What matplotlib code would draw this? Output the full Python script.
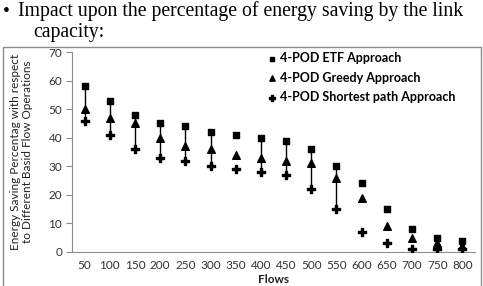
import matplotlib
matplotlib.use("Agg")
import matplotlib.pyplot as plt
from matplotlib.patches import Rectangle

flows = ["50", "100", "150", "200", "250", "300", "350", "400", "450", "500",
         "550", "600", "650", "700", "750", "800"]
etf = [58, 53, 48, 45, 44, 42, 41, 40, 39, 36, 30, 24, 15, 8, 5, 4]
greedy = [50, 47, 45, 40, 37, 36, 34, 33, 32, 31, 26, 19, 9, 5, 3, 2]
shortest = [46, 41, 36, 33, 32, 30, 29, 28, 27, 22, 15, 7, 3, 1, 1, 1]
has_range = [True, True, True, True, True, True, False, True, True, True,
             True, False, False, False, False, False]
yticks = [0, 10, 20, 30, 40, 50, 60, 70]

W, H = 483, 286
fig = plt.figure(figsize=(W / 100, H / 100), dpi=100)
fig.patch.set_facecolor("white")

# heading text
fig.text(3 / W, 1 - 12 / H, "\u2022", fontsize=14, family="Liberation Serif", va="center", ha="left")
fig.text(18 / W, 1 - 11.5 / H, "Impact upon the percentage of energy saving by the link",
         fontsize=14.2, family="Liberation Serif", va="center", ha="left")
fig.text(33 / W, 1 - 33 / H, "capacity:", fontsize=14.2, family="Liberation Serif",
         va="center", ha="left")

# chart border box
fig.patches.append(Rectangle((3 / W, -0.01), 478 / W, 1 - 47 / H + 0.01,
                             transform=fig.transFigure, fill=False,
                             edgecolor="#8c8c8c", linewidth=1.0))

ax = fig.add_axes([72 / W, 1 - 252 / H, 403 / W, 200 / H])
x = list(range(len(flows)))

for i in x:
    if has_range[i]:
        ax.plot([i, i], [shortest[i], etf[i]], color="black", linewidth=1.0, zorder=1)

ax.scatter(x, etf, marker="s", s=22, color="black", label="4-POD ETF Approach", zorder=3)
ax.scatter(x, greedy, marker="^", s=30, color="black", label="4-POD Greedy Approach", zorder=3)
ax.scatter(x, shortest, marker="P", s=30, color="black",
           label="4-POD Shortest path Approach", zorder=3)

ax.set_xlim(-0.5, len(flows) - 0.5)
ax.set_ylim(0, 70)
ax.set_yticks(yticks)
ax.set_xticks(x)
ax.set_xticklabels(flows)
for s in ["top", "right"]:
    ax.spines[s].set_visible(False)
for s in ["left", "bottom"]:
    ax.spines[s].set_color("#8c8c8c")
    ax.spines[s].set_linewidth(0.8)
ax.tick_params(axis="y", length=4, color="#8c8c8c", labelsize=8.5, labelcolor="#333333", pad=3)
ax.tick_params(axis="x", length=0, labelsize=8.5, labelcolor="#333333", pad=6)
for lab in ax.get_xticklabels() + ax.get_yticklabels():
    lab.set_family("Lato")

ax.set_xlabel("Flows", fontsize=8.5, fontweight="bold", family="Lato", labelpad=2, color="#222222")
ax.set_ylabel("Energy Saving Percentag with respect\nto Different Basid Flow Operations",
              fontsize=8.5, family="Lato", labelpad=11, color="#222222", linespacing=1.1)

leg = fig.legend(*ax.get_legend_handles_labels(), loc="upper left",
                 bbox_to_anchor=(266 / W, 1 - 52 / H), bbox_transform=fig.transFigure,
                 frameon=False,
                 prop={"family": "Lato", "weight": "bold", "size": 9},
                 handletextpad=0.1, labelspacing=0.6, markerscale=0.7, handlelength=1.0,
                 borderaxespad=0, borderpad=0)

fig.savefig("out.png", dpi=100, facecolor="white")
